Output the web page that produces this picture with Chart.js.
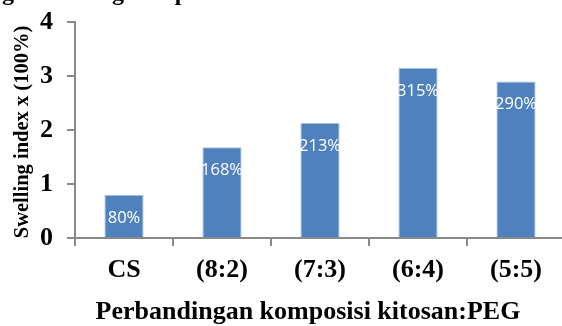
<!DOCTYPE html>
<html>
<head>
<meta charset="utf-8">
<script src="https://cdn.jsdelivr.net/npm/chart.js@4.4.1/dist/chart.umd.min.js"></script>
<style>
    html, body { margin: 0; padding: 0; background: #fff; overflow: hidden; }
    #wrap { position: relative; width: 562px; height: 326px; overflow: hidden; }
    canvas { position: absolute; left: 0; top: 0; }
</style>
</head>
<body>
<div id="wrap"><canvas id="swellChart" width="570" height="326"></canvas></div>
<script>
const categories = ['CS', '(8:2)', '(7:3)', '(6:4)', '(5:5)'];
const swellValues = [0.80, 1.68, 2.13, 3.15, 2.90];
const swellLabels = ['80%', '168%', '213%', '315%', '290%'];
const yTicks = [0, 1, 2, 3, 4];

const titleText = 'Hidrogel Swelling dan pH'; // only the tail of a cropped title shows
const xTitle = 'Perbandingan komposisi kitosan:PEG';
const yTitle = 'Swelling index x (100%)';

const axisGray = '#898989';
const serif = "'Liberation Serif', 'Times New Roman', serif";

// white value labels sitting just inside the bar top
const barLabels = {
    id: 'barLabels',
    afterDatasetsDraw(chart) {
        const ctx = chart.ctx;
        const meta = chart.getDatasetMeta(0);
        ctx.save();
        ctx.fillStyle = '#ffffff';
        ctx.font = "16.5px 'Open Sans', sans-serif";
        ctx.textAlign = 'center';
        ctx.textBaseline = 'middle';
        meta.data.forEach((bar, i) => {
            ctx.fillText(swellLabels[i], bar.x, bar.y + 23);
        });
        ctx.restore();
    }
};

// axis titles + cropped heading remnant
const extraText = {
    id: 'extraText',
    afterDraw(chart) {
        const ctx = chart.ctx;
        ctx.save();
        ctx.fillStyle = '#000';
        ctx.font = 'bold 24px ' + serif;
        ctx.textAlign = 'left';
        ctx.textBaseline = 'alphabetic';
        const pre = ctx.measureText('Hidro').width;
        ctx.fillText(titleText, 2 - pre, 0);

        ctx.textAlign = 'center';
        ctx.font = 'bold 26px ' + serif;
        ctx.fillText(xTitle, 308, 319);

        ctx.font = 'bold 20.5px ' + serif;
        ctx.translate(28, 132);
        ctx.rotate(-Math.PI / 2);
        ctx.fillText(yTitle, 0, 0);
        ctx.restore();
    }
};

new Chart(document.getElementById('swellChart'), {
    type: 'bar',
    data: {
        labels: categories,
        datasets: [{
            data: swellValues,
            backgroundColor: '#4f81bd',
            borderColor: '#a9c2e2',
            borderWidth: 1,
            barPercentage: 0.4,
            categoryPercentage: 1
        }]
    },
    options: {
        responsive: false,
        animation: false,
        layout: { padding: { top: 22, right: 5, left: 0, bottom: 0 } },
        plugins: {
            legend: { display: false },
            tooltip: { enabled: false }
        },
        scales: {
            x: {
                grid: {
                    offset: true,
                    drawOnChartArea: false,
                    color: axisGray,
                    lineWidth: 2,
                    tickLength: 8
                },
                border: { color: axisGray, width: 2 },
                ticks: {
                    color: '#000',
                    font: { family: serif, size: 26, weight: 'bold' },
                    padding: 9,
                    maxRotation: 0
                },
                afterFit: (scale) => {
                    scale.height = 88;
                    scale.paddingLeft = 0;
                    scale.paddingRight = 0;
                }
            },
            y: {
                min: 0,
                max: 4,
                afterBuildTicks: (scale) => { scale.ticks = yTicks.map(v => ({ value: v })); },
                grid: {
                    drawOnChartArea: false,
                    color: axisGray,
                    lineWidth: 2,
                    tickLength: 8
                },
                border: { color: axisGray, width: 2 },
                ticks: {
                    color: '#000',
                    font: { family: serif, size: 26, weight: 'bold' },
                    padding: 14
                },
                afterFit: (scale) => {
                    scale.width = 75;
                    scale.paddingTop = 0;
                    scale.paddingBottom = 0;
                }
            }
        }
    },
    plugins: [barLabels, extraText]
});
</script>
</body>
</html>
